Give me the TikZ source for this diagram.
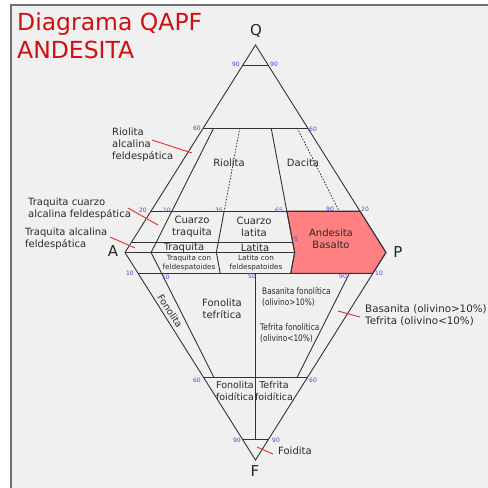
\documentclass[tikz,border=0pt]{standalone}
\usepackage{fontspec}
\setmainfont{DejaVu Sans}
\newfontfamily\condfont[FakeStretch=0.82]{DejaVu Sans}
\usetikzlibrary{calc}
\definecolor{bg}{HTML}{F0F0F0}
\definecolor{framec}{HTML}{707070}
\definecolor{ln}{HTML}{333333}
\definecolor{txt}{HTML}{2A2A2A}
\definecolor{ttl}{HTML}{D01010}
\definecolor{num}{HTML}{4848D8}
\definecolor{lead}{HTML}{E03030}
\definecolor{andes}{HTML}{FF8080}
\begin{document}
\begin{tikzpicture}[x=1pt,y=-1pt,
  edge/.style={draw=ln,line width=0.9pt},
  dotline/.style={draw=ln,line width=0.8pt,dash pattern=on 1.5pt off 1.5pt},
  leader/.style={draw=lead,line width=0.9pt},
  lbl/.style={text=txt,font=\fontsize{10}{12}\selectfont,inner sep=0pt,align=center},
  outl/.style={text=txt,font=\fontsize{10}{12}\selectfont,inner sep=0pt,align=left,anchor=west},
  smalltxt/.style={text=txt,font=\fontsize{7.2}{9.5}\selectfont,inner sep=0pt,align=center},
  cond/.style={text=txt,font=\condfont\fontsize{9}{11}\selectfont,inner sep=0pt,align=left,anchor=west},
  numb/.style={text=num,font=\fontsize{6}{6}\selectfont,inner sep=0pt},
  vertl/.style={text=black!85,font=\fontsize{15}{15}\selectfont,inner sep=0pt},
  titl/.style={text=ttl,font=\fontsize{23.5}{28}\selectfont,inner sep=0pt,anchor=base west}
]
\useasboundingbox (0,0) rectangle (488,488);
\fill[white] (0,0) rectangle (488,488);
\fill[bg] (11,5) rectangle (488,488);
\draw[framec,line width=1.2pt] (11,488) -- (11,5) -- (488,5);

% title
\node[titl] (t1) at (17,30) {Diagrama QAPF};
\node[titl] (t2) at (17,58) {ANDESITA};

% vertices
\coordinate (Q) at (255.5,45);
\coordinate (A) at (125,252.5);
\coordinate (P) at (386,252.5);
\coordinate (F) at (255.5,460);
\coordinate (b10) at ($(A)!0.10!(P)$);
\coordinate (b35) at ($(A)!0.35!(P)$);
\coordinate (b50) at ($(A)!0.50!(P)$);
\coordinate (b65) at ($(A)!0.65!(P)$);
\coordinate (b90) at ($(A)!0.90!(P)$);
% edges at Q levels
\coordinate (L90) at ($(Q)!0.1!(A)$);
\coordinate (R90) at ($(Q)!0.1!(P)$);
\coordinate (L60) at ($(Q)!0.4!(A)$);
\coordinate (R60) at ($(Q)!0.4!(P)$);
\coordinate (L20) at ($(Q)!0.8!(A)$);
\coordinate (R20) at ($(Q)!0.8!(P)$);
\coordinate (L5) at ($(Q)!0.95!(A)$);
\coordinate (u60a) at ($(Q)!0.4!(b10)$);
\coordinate (u60b) at ($(Q)!0.4!(b35)$);
\coordinate (u60c) at ($(Q)!0.4!(b65)$);
\coordinate (u60d) at ($(Q)!0.4!(b90)$);
\coordinate (u20b) at ($(Q)!0.8!(b35)$);
\coordinate (u20c) at ($(Q)!0.8!(b65)$);
\coordinate (u20d) at ($(Q)!0.8!(b90)$);
\coordinate (u5c) at ($(Q)!0.95!(b65)$);
% edges at F levels
\coordinate (LF10) at ($(F)!0.9!(A)$);
\coordinate (RF10) at ($(F)!0.9!(P)$);
\coordinate (LF60) at ($(F)!0.4!(A)$);
\coordinate (RF60) at ($(F)!0.4!(P)$);
\coordinate (LF90) at ($(F)!0.1!(A)$);
\coordinate (RF90) at ($(F)!0.1!(P)$);
\coordinate (l10b) at ($(F)!0.9!(b35)$);
\coordinate (l10c) at ($(F)!0.9!(b65)$);
\coordinate (l10m) at ($(F)!0.9!(b50)$);
\coordinate (l10d) at ($(F)!0.9!(b90)$);
\coordinate (l60a) at ($(F)!0.4!(b10)$);
\coordinate (l60d) at ($(F)!0.4!(b90)$);
\coordinate (l90m) at ($(F)!0.1!(b50)$);

% Andesita field
\filldraw[fill=andes,draw=ln,line width=0.9pt] (u20c) -- (R20) -- (P) -- (RF10) -- (l10c) -- (b65) -- cycle;

% outline
\draw[edge] (A) -- (Q) -- (P) -- (F) -- cycle;
% horizontals
\draw[edge] (L90) -- (R90);
\draw[edge] (L60) -- (R60);
\draw[edge] (L20) -- (R20);
\draw[edge] (L5) -- (u5c);
\draw[edge] (A) -- (b65);
\draw[edge] (LF10) -- (RF10);
\draw[edge] (LF60) -- (RF60);
\draw[edge] (LF90) -- (RF90);
% radials
\draw[edge] (u60a) -- (b10) -- (l60a);
\draw[dotline] (u60b) -- (u20b);
\draw[edge] (u20b) -- (b35) -- (l10b);
\draw[edge] (u60c) -- (b65) -- (l10c);
\draw[dotline] (u60d) -- (u20d);
\draw[edge] (l10m) -- (l90m);
\draw[edge] (l10d) -- (l60d);

% vertex labels
\node[vertl] (nQ) at (256,31) {Q};
\node[vertl] (nA) at (113,251) {A};
\node[vertl] (nP) at (398,252) {P};
\node[vertl] (nF) at (255,471) {F};

% numbers
\node[numb] (n1) at (236,64) {90};
\node[numb] (n2) at (274,64) {90};
\node[numb] (n3) at (197,128) {60};
\node[numb] (n4) at (313,129) {60};
\node[numb] (n5) at (143,210) {20};
\node[numb] (n6) at (167,210) {10};
\node[numb] (n7) at (219,210) {35};
\node[numb] (n8) at (279,210) {65};
\node[numb] (n9) at (330,209) {90};
\node[numb] (n10) at (365,209) {20};
\node[numb] (n11) at (296,239) {5};
\node[numb] (n12) at (130,273) {10};
\node[numb] (n13) at (166,277) {10};
\node[numb] (n14) at (252,276) {50};
\node[numb] (n15) at (343,276) {90};
\node[numb] (n16) at (379,273) {10};
\node[numb] (n17) at (197,380) {60};
\node[numb] (n18) at (313,380) {60};
\node[numb] (n19) at (237,440) {90};
\node[numb] (n20) at (276,440) {90};

% field labels
\node[lbl] (riol) at (229,163) {Riolita};
\node[lbl] (daci) at (303,163) {Dacita};
\node[lbl] (cztr) at (192,227) {Cuarzo\\traquita};
\node[lbl] (czla) at (254,227) {Cuarzo\\latita};
\node[lbl] (traq) at (184,248) {Traquita};
\node[lbl] (lati) at (255,248) {Latita};
\node[smalltxt] (trfd) at (189,263) {Traquita con\\feldespatoides};
\node[smalltxt] (lafd) at (256,263) {Latita con\\feldespatoides};
\node[lbl] (ande) at (331,239) {Andesita\\Basalto};
\node[lbl,rotate=-57,font=\fontsize{9.5}{11}\selectfont] (fono) at (170,311) {Fonolita};
\node[lbl] (fote) at (222,309) {Fonolita\\tefrítica};
\node[cond] (bafo) at (262,297) {Basanita fonolítica\\(olivino>10\%)};
\node[cond] (tefo) at (260,333) {Tefrita fonolítica\\(olivino<10\%)};
\node[lbl,font=\fontsize{9.5}{12}\selectfont] (fofo) at (235,391) {Fonolita\\foidítica};
\node[lbl,font=\fontsize{9.5}{12}\selectfont] (tefd) at (274,391) {Tefrita\\foidítica};
\node[outl] (foid) at (278,451) {Foidita};
\node[outl,font=\fontsize{10.3}{12}\selectfont] (bate) at (365,315) {Basanita (olivino>10\%)\\Tefrita (olivino<10\%)};
\node[outl] (rafe) at (112,145) {Riolita\\alcalina\\feldespática};
\node[outl] (tcaf) at (28,209) {Traquita cuarzo\\alcalina feldespática};
\node[outl] (taf) at (25,239) {Traquita alcalina\\feldespática};

% leaders
\coordinate (r1a) at (152,140); \coordinate (r1b) at (192,153);
\coordinate (r2a) at (128,208); \coordinate (r2b) at (158,225);
\coordinate (r3a) at (110,237); \coordinate (r3b) at (135,248);
\coordinate (r4a) at (338,311); \coordinate (r4b) at (360,317);
\coordinate (r5a) at (257,447); \coordinate (r5b) at (273,454);
\draw[leader] (r1a) -- (r1b);
\draw[leader] (r2a) -- (r2b);
\draw[leader] (r3a) -- (r3b);
\draw[leader] (r4a) -- (r4b);
\draw[leader] (r5a) -- (r5b);
\end{tikzpicture}
\end{document}
